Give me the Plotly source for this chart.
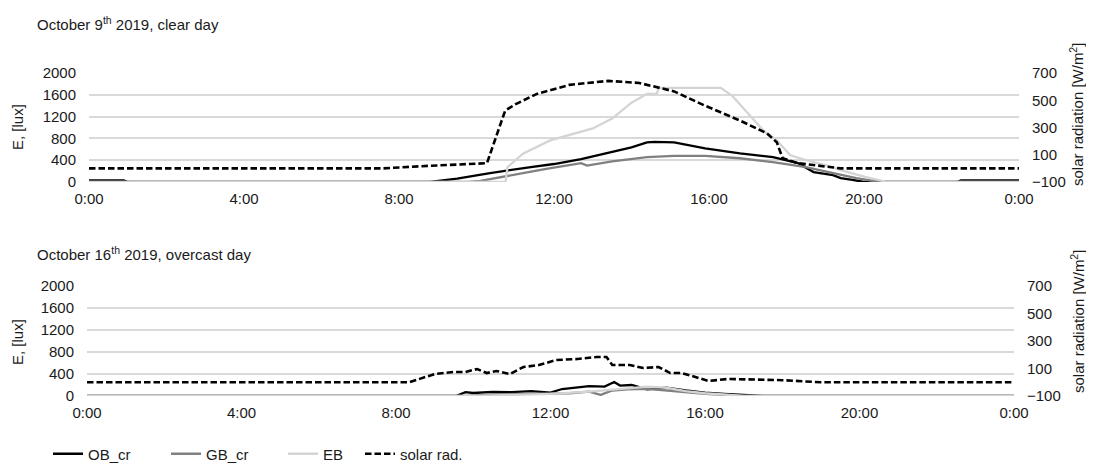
import plotly.graph_objects as go

# page body has an 8px margin; offset all layout positions accordingly
PAGE_W, PAGE_H, OFF = 1094, 466, 8
W, H = PAGE_W - OFF, PAGE_H - OFF

def px(x):
    return (x - OFF) / W

def py(y):
    return 1 - (y - OFF) / H

# ---------------- data: October 9th (clear day) ----------------
t_ob1 = [0, 0.9, 1.0, 8.8, 9.5, 10.35, 11.4, 12.0, 12.7, 13.5, 14.0, 14.4, 14.6, 15.1, 15.9, 16.8, 17.65, 18.3, 18.7, 19.2, 19.4, 19.7, 20.0, 22.4, 22.5, 24]
ob1 = [30, 30, 0, 0, 60, 164, 273, 330, 418, 545, 636, 727, 735, 727, 618, 527, 455, 345, 182, 127, 73, 40, 0, 0, 30, 30]

t_gb1 = [0, 9.8, 10.1, 10.9, 11.8, 12.7, 12.85, 13.5, 14.4, 15.1, 15.9, 16.8, 17.65, 18.5, 19.2, 19.8, 20.4, 24]
gb1 = [0, 0, 20, 127, 240, 345, 300, 380, 455, 480, 478, 436, 364, 273, 164, 70, 0, 0]

t_eb1 = [0, 10.75, 10.8, 11.2, 11.9, 13.0, 13.5, 14.0, 14.4, 14.65, 14.7, 16.3, 16.6, 17.0, 17.4, 17.75, 18.1, 18.5, 19.0, 19.4, 20.0, 20.6, 24]
eb1 = [0, 0, 273, 520, 764, 982, 1164, 1455, 1618, 1618, 1727, 1727, 1582, 1255, 945, 764, 491, 400, 309, 218, 100, 0, 0]

t_sr1 = [0, 7.6, 8.5, 9.5, 10.27, 10.74, 11.0, 11.56, 12.4, 13.4, 14.2, 15.1, 15.9, 16.8, 17.5, 17.75, 17.9, 18.3, 19.4, 24]
sr1 = [0, 0, 15, 28, 38, 424, 470, 547, 613, 642, 627, 565, 460, 351, 256, 191, 75, 38, 0, 0]

# ---------------- data: October 16th (overcast day) ----------------
t_ob2 = [0, 9.55, 9.8, 10.0, 10.5, 11.0, 11.5, 12.0, 12.3, 12.7, 13.0, 13.4, 13.65, 13.8, 14.1, 14.5, 14.8, 15.0, 15.5, 16.0, 16.5, 17.5, 24]
ob2 = [0, 0, 70, 55, 75, 70, 90, 60, 127, 150, 180, 170, 255, 190, 200, 120, 140, 150, 100, 60, 40, 0, 0]

t_gb2 = [0, 9.8, 10.5, 11.5, 12.5, 13.0, 13.3, 13.6, 14.0, 14.5, 15.0, 15.5, 16.0, 17.0, 24]
gb2 = [0, 0, 30, 40, 50, 80, 20, 100, 120, 130, 100, 70, 40, 0, 0]

t_eb2 = [0, 10.0, 11.0, 12.0, 13.0, 13.6, 14.0, 14.5, 15.0, 15.5, 16.0, 17.0, 24]
eb2 = [0, 0, 20, 40, 80, 110, 140, 170, 150, 90, 50, 0, 0]

t_sr2 = [0, 8.35, 9.0, 9.5, 9.8, 10.1, 10.35, 10.6, 10.95, 11.3, 11.7, 12.15, 12.7, 13.2, 13.45, 13.6, 14.05, 14.4, 14.8, 15.1, 15.4, 16.1, 16.6, 17.3, 18.0, 19.0, 24]
sr2 = [0, 0, 60, 75, 75, 96, 67, 82, 60, 111, 125, 162, 169, 184, 184, 125, 125, 104, 111, 67, 67, 9, 24, 22, 15, 0, 0]

hour_ticks = [0, 4, 8, 12, 16, 20, 24]
hour_labels = ["0:00", "4:00", "8:00", "12:00", "16:00", "20:00", "0:00"]
lux_ticks = [0, 400, 800, 1200, 1600, 2000]
rad_ticks = [-100, 100, 300, 500, 700]

C_OB, C_GB, C_EB, C_SR = "#000000", "#808080", "#d4d4d4", "#000000"
FONT = "Liberation Sans, Arial, sans-serif"
TXT = "#1a1a1a"
FS = 15

fig = go.Figure()

legend_ids = ["legend", "legend2", "legend3", "legend4"]

def add_panel(t_ob, ob, t_gb, gb, t_eb, eb, t_sr, sr, xa, ya, ya2, show):
    specs = [
        (t_ob, ob, "OB_cr", dict(color=C_OB, width=2.3), ya),
        (t_gb, gb, "GB_cr", dict(color=C_GB, width=2.3), ya),
        (t_eb, eb, "EB", dict(color=C_EB, width=2.3), ya),
        (t_sr, sr, "solar rad.", dict(color=C_SR, width=2.6, dash="6.5px,3px"), ya2),
    ]
    for i, (tx, vy, nm, ln, yy) in enumerate(specs):
        fig.add_trace(go.Scatter(x=tx, y=vy, mode="lines", name=nm, line=ln, xaxis=xa, yaxis=yy,
                                 showlegend=show, legend=legend_ids[i]))

add_panel(t_ob1, ob1, t_gb1, gb1, t_eb1, eb1, t_sr1, sr1, "x", "y", "y2", True)
add_panel(t_ob2, ob2, t_gb2, gb2, t_eb2, eb2, t_sr2, sr2, "x2", "y3", "y4", False)

tickfont = dict(family=FONT, size=FS, color=TXT)

def xax(domain, anchor):
    return dict(domain=domain, anchor=anchor, range=[0, 24], tickvals=hour_ticks, ticktext=hour_labels,
                showgrid=False, zeroline=False, showline=False, ticks="outside", ticklen=3,
                tickcolor="rgba(0,0,0,0)", tickfont=tickfont, automargin=False)

def yax(domain, anchor):
    return dict(domain=domain, anchor=anchor, range=[0, 2000], tickvals=lux_ticks, showgrid=True,
                gridcolor="#d9d9d9", gridwidth=1.5, zeroline=False, showline=False, ticks="outside",
                ticklen=9, tickcolor="rgba(0,0,0,0)", tickfont=tickfont, automargin=False)

def yax2(overlay, anchor):
    return dict(overlaying=overlay, anchor=anchor, side="right", range=[-100, 700], tickvals=rad_ticks,
                showgrid=False, zeroline=False, showline=False, ticks="outside", ticklen=9,
                tickcolor="rgba(0,0,0,0)", tickfont=tickfont, automargin=False)

top_dom = [py(182), py(73)]
bot_dom = [py(396), py(286)]

leg_common = dict(orientation="h", xanchor="left", y=py(454), yanchor="middle",
                  font=dict(family=FONT, size=FS, color=TXT), bgcolor="rgba(0,0,0,0)")

fig.update_layout(
    template="none",
    width=W, height=H, margin=dict(l=0, r=0, t=0, b=0, autoexpand=False),
    paper_bgcolor="white", plot_bgcolor="white",
    font=dict(family=FONT, size=FS, color=TXT),
    xaxis=xax([px(89), px(1019)], "y"),
    yaxis=yax(top_dom, "x"),
    yaxis2=yax2("y", "x"),
    xaxis2=xax([px(87), px(1014)], "y3"),
    yaxis3=yax(bot_dom, "x2"),
    yaxis4=yax2("y3", "x2"),
    legend=dict(x=px(48), **leg_common),
    legend2=dict(x=px(166), **leg_common),
    legend3=dict(x=px(283), **leg_common),
    legend4=dict(x=px(360), **leg_common),
    showlegend=True,
)

ann = [
    dict(text="October 9<sup>th</sup> 2019, clear day", x=px(35), y=py(23)),
    dict(text="October 16<sup>th</sup> 2019, overcast day", x=px(35), y=py(253)),
]
for a in ann:
    fig.add_annotation(xref="paper", yref="paper", xanchor="left", yanchor="middle", showarrow=False,
                       font=dict(family=FONT, size=FS, color=TXT), **a)

for yc in [127, 342]:
    fig.add_annotation(text="E, [lux]", xref="paper", yref="paper", x=px(17), y=py(yc),
                       textangle=-90, showarrow=False, xanchor="center", yanchor="middle",
                       font=dict(family=FONT, size=FS, color=TXT))
for yc in [115, 322]:
    fig.add_annotation(text="solar radiation [W/m<sup>2</sup>]", xref="paper", yref="paper", x=px(1077),
                       y=py(yc), textangle=-90, showarrow=False, xanchor="center", yanchor="middle",
                       font=dict(family=FONT, size=FS, color=TXT))

fig.write_html("out.html")
